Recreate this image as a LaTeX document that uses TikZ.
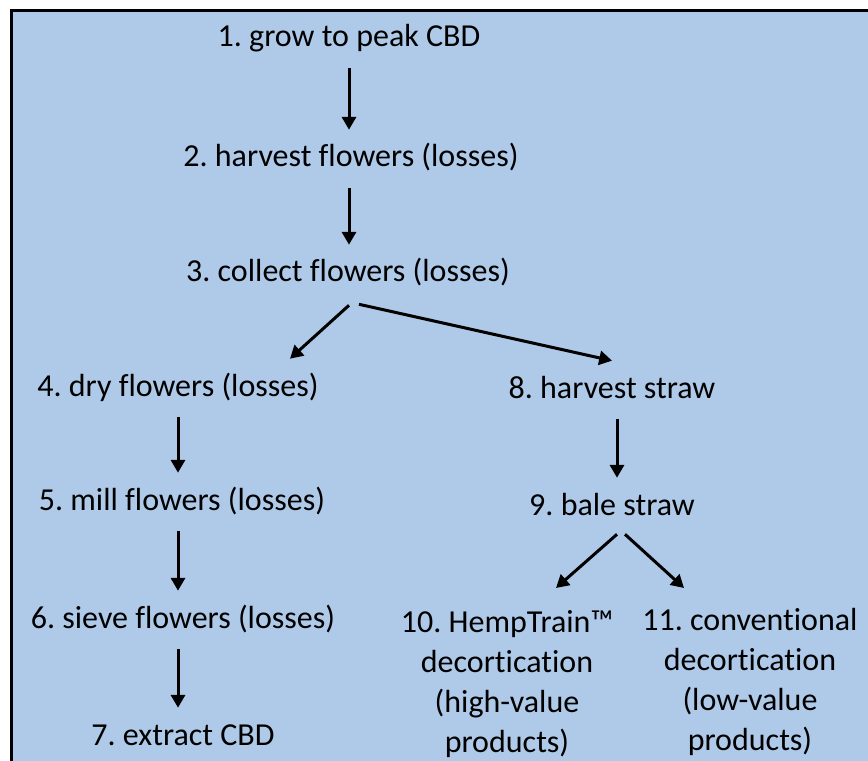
\documentclass[tikz,border=0pt]{standalone}
\usepackage{fontspec}
\setmainfont{Carlito}[Ligatures=NoCommon]
\usetikzlibrary{arrows.meta, calc}
\definecolor{panelcol}{HTML}{AECAE8}
\frenchspacing
\tikzset{
  stage/.style={inner xsep=0pt, inner ysep=0.35cm, text height=0.575cm, text depth=0.175cm, anchor=base, font=\fontsize{22.76}{28.5}\selectfont},
  mstage/.style={inner xsep=0pt, inner ysep=0.35cm, align=center, anchor=north, font=\fontsize{22.76}{28.5}\selectfont},
  flow/.style={-{Triangle[length=0.32cm, width=0.35cm]}, line width=0.075cm},
}

\begin{document}
\begin{tikzpicture}[x=0.025cm, y=-0.025cm]
  \useasboundingbox (0,0) rectangle (868,761);
  % panel
  \fill[panelcol] (11.5,10.7) rectangle (868,761);
  \draw[line width=0.0675cm] (11.5,761) -- (11.5,10.7) -- (868,10.7);
  % main trunk
  \node[stage] (S1) at (349,47) {1. grow to peak CBD};
  \node[stage] (S2) at (351,167) {2. harvest flowers (losses)};
  \node[stage] (S3) at (348,282) {3. collect flowers (losses)};
  % left branch: flowers
  \node[stage] (S4) at (178,396) {4. dry flowers (losses)};
  \node[stage] (S5) at (182,510) {5. mill flowers (losses)};
  \node[stage] (S6) at (183,628) {6. sieve flowers (losses)};
  \node[stage] (S7) at (183,745) {7. extract CBD};
  % right branch: straw
  \node[stage] (S8) at (612,398) {8. harvest straw};
  \node[stage] (S9) at (612,515) {9. bale straw};
  \node[mstage] (S10) at (507,596) {10. HempTrain™\\decortication\\(high-value\\products)};
  \node[mstage] (S11) at (750,594) {11. conventional\\decortication\\(low-value\\products)};
  % arrows
  \draw[flow] (S1.south) -- (S1.south |- S2.north);
  \draw[flow] (S1.south |- S2.south) -- (S1.south |- S3.north);
  \draw[flow] ($(S3.south)+(1,2)$) -- ($(S4.north)+(112,0)$);
  \draw[flow] ($(S3.south)+(11,1)$) -- (S8.north);
  \draw[flow] (S4.south) -- (S4.south |- S5.north);
  \draw[flow] (S4.south |- S5.south) -- (S4.south |- S6.north);
  \draw[flow] (S4.south |- S6.south) -- (S4.south |- S7.north);
  \draw[flow] ($(S8.south)+(5,0)$) -- ($(S8.south |- S9.north)+(5,0)$);
  \draw[flow] ($(S9.south)+(5,-2)$) -- ($(S10.north)+(49,-8)$);
  \draw[flow] ($(S9.south)+(13,-2)$) -- ($(S11.north)+(-66,-6)$);
\end{tikzpicture}
\end{document}
